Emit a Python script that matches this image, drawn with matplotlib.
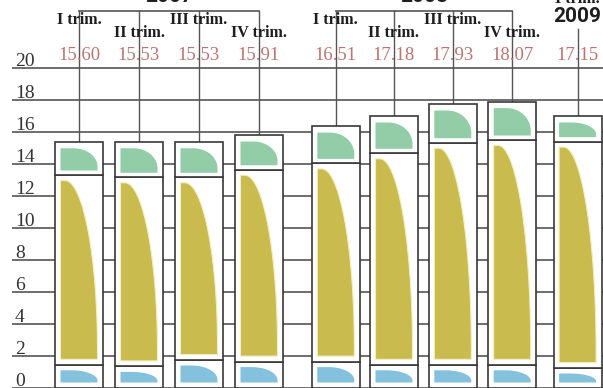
import numpy as np
import matplotlib
matplotlib.use("Agg")
import matplotlib.pyplot as plt
from matplotlib.patches import Rectangle, Polygon

# ---- data ----
years = ["2007", "2008", "2009"]
quarters = ["I trim.", "II trim.", "III trim.", "IV trim.",
            "I trim.", "II trim.", "III trim.", "IV trim.", "I trim."]
totals = ["15.60", "15.53", "15.53", "15.91", "16.51", "17.18", "17.93", "18.07", "17.15"]
bottom_seg = [1.45, 1.35, 1.75, 1.65, 1.65, 1.45, 1.45, 1.45, 1.25]
middle_seg = [11.86, 11.82, 11.42, 11.99, 12.39, 13.22, 13.88, 14.05, 14.15]
top_seg = [2.08, 2.22, 2.22, 2.17, 2.33, 2.33, 2.42, 2.40, 1.60]
yticks = [0, 2, 4, 6, 8, 10, 12, 14, 16, 18, 20]

# ---- layout ----
positions = [0, 1, 2, 3, 4.28, 5.25, 6.23, 7.22, 8.31]
bar_w = 0.8
PX_X = 60.0   # px per x unit
PX_Y = 16.0   # px per y unit
def ypx(py):
    return (388 - py) / PX_Y
def xpx(px):
    return (px - 79) / PX_X

fig = plt.figure(figsize=(6.03, 3.88), dpi=100)
ax = fig.add_axes([0, 0, 1, 1])
ax.set_xlim(xpx(0), xpx(603))
ax.set_ylim(0, 388 / PX_Y)
ax.axis("off")

grid_c = "#555555"
box_c = "#383838"
olive = "#c9bb4d"
green = "#93cda7"
blue = "#84c1dc"
num_c = "#bc7470"

serif = "Liberation Serif"

# gridlines + labels
for t in yticks:
    ax.plot([xpx(12), xpx(603)], [t, t], color=grid_c, lw=1.2, zorder=1,
            solid_capstyle="butt")
    ax.text(xpx(15), t + 0.14, str(t), fontsize=14, family=serif,
            color="#333333", ha="left", va="baseline", zorder=4)

def shape(x0, y0, x1, y1, flat_frac, ry_frac, color, edge=None, n=50):
    w = x1 - x0
    h = y1 - y0
    rx = (1 - flat_frac) * w
    ry = ry_frac * h
    cx, cy = x1 - rx, y1 - ry
    tt = np.linspace(0, np.pi / 2, n)
    pts = [(x0, y0), (x1, y0)]
    pts += list(zip(cx + rx * np.cos(tt), cy + ry * np.sin(tt)))
    pts += [(x0, y1)]
    poly = Polygon(pts, closed=True, facecolor=color,
                   edgecolor=edge if edge else "none",
                   lw=0.8 if edge else 0, zorder=3)
    ax.add_patch(poly)

padx = 5.5 / PX_X
pady = 5.5 / PX_Y

for i, p in enumerate(positions):
    x0 = p - bar_w / 2
    x1 = p + bar_w / 2
    b = bottom_seg[i]
    m = b + middle_seg[i]
    top = m + top_seg[i]
    # boxes
    for (lo, hi) in [(0, b), (b, m), (m, top)]:
        ax.add_patch(Rectangle((x0, lo), bar_w, hi - lo, facecolor="white",
                               edgecolor=box_c, lw=1.2, zorder=2))
    # shapes
    shape(x0 + padx, 0 + pady, x1 - padx, b - pady, 0.3, 0.85, blue)
    shape(x0 + padx, b + pady, x1 - padx, m - pady, 0.12, 0.95, olive,
          edge="#f3eebd")
    shape(x0 + padx, m + 4.5 / PX_Y, x1 - padx, top - 6.5 / PX_Y, 0.35, 0.82, green)

    # value label
    ax.text(p, ypx(56), totals[i], fontsize=13.5, family=serif, color=num_c,
            ha="center", va="center", zorder=4)

# connectors and brackets
groups = [(0, 4, years[0]), (4, 8, years[1])]
for a, bnd, yr in groups:
    xs = positions[a:bnd]
    yb = ypx(11)
    ax.plot([xs[0], xs[-1]], [yb, yb], color=grid_c, lw=1.2, zorder=1)
    for k, j in enumerate(range(a, bnd)):
        topv = bottom_seg[j] + middle_seg[j] + top_seg[j]
        ax.plot([positions[j], positions[j]], [yb, topv], color=grid_c,
                lw=1.0, zorder=1)
        ty = ypx(20) if k % 2 == 0 else ypx(33)
        ax.text(positions[j], ty, quarters[j], fontsize=11.5, family=serif,
                weight="bold", color="#1e1e1e", ha="center", va="center",
                zorder=4)
    ax.text((xs[0] + xs[-1]) / 2, ypx(-3), yr, fontsize=15, family="Roboto",
            weight="bold", color="#1e1e1e", ha="center", va="center",
            zorder=4)

# 2009
j = 8
topv = bottom_seg[j] + middle_seg[j] + top_seg[j]
ax.plot([positions[j], positions[j]], [ypx(29), topv], color=grid_c, lw=1.0,
        zorder=1)
ax.text(positions[j], ypx(17), years[2], fontsize=15, family="Roboto",
        weight="bold", color="#1e1e1e", ha="center", va="center", zorder=4)
ax.text(positions[j], ypx(-1), quarters[j], fontsize=11.5, family=serif,
        weight="bold", color="#1e1e1e", ha="center", va="center", zorder=4)

fig.savefig("out.png", dpi=100)
